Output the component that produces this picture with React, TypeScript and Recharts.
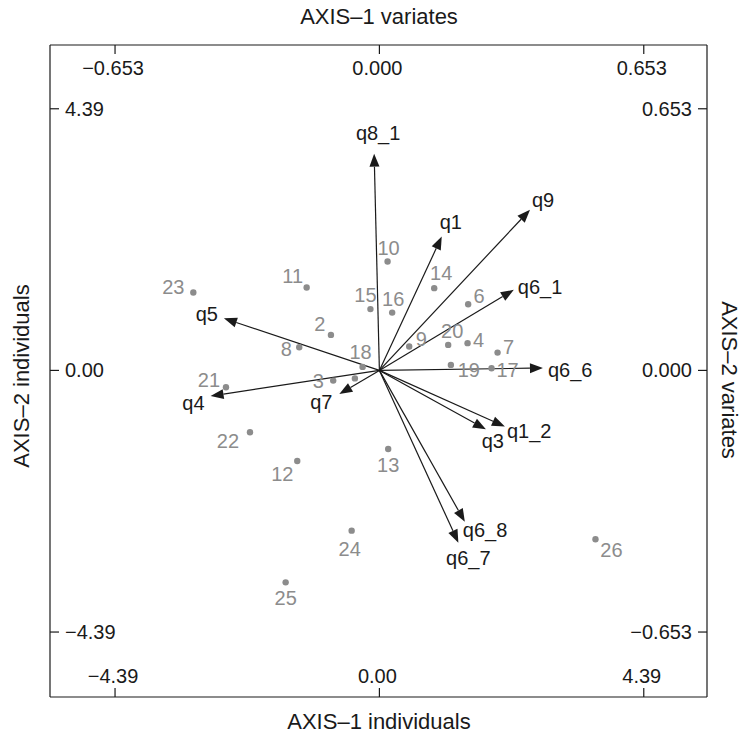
import { ScatterChart, Scatter, XAxis, YAxis, ReferenceLine } from "recharts";

const FONT = '"Liberation Sans", Arial, Helvetica, sans-serif';
const INK = "#1a1a1a";
const GREY = "#8c8c8c";

// individuals: AXIS-1 / AXIS-2 scores
const individualIds = ["2", "3", "4", "6", "7", "8", "9", "10", "11", "12", "13", "14", "15", "16", "17", "18", "19", "20", "21", "22", "23", "24", "25", "26", ""];
const individualX = [-0.805, -0.767, 1.464, 1.474, 1.962, -1.331, 0.495, 0.136, -1.208, -1.364, 0.146, 0.91, -0.149, 0.212, 1.862, -0.279, 1.187, 1.142, -2.548, -2.149, -3.09, -0.461, -1.557, 3.588, -0.407];
const individualY = [0.596, -0.171, 0.457, 1.111, 0.299, 0.389, 0.4, 1.827, 1.39, -1.519, -1.318, 1.38, 1.029, 0.97, 0.037, 0.059, 0.092, 0.428, -0.282, -1.037, 1.306, -2.689, -3.556, -2.834, -0.134];

// variates: AXIS-1 / AXIS-2 coordinates
const variateNames = ["q8_1", "q1", "q9", "q6_1", "q6_6", "q1_2", "q3", "q6_8", "q6_7", "q5", "q4", "q7"];
const variateX = [-0.013, 0.154, 0.372, 0.332, 0.404, 0.31, 0.263, 0.211, 0.195, -0.384, -0.417, -0.099];
const variateY = [0.541, 0.334, 0.401, 0.201, 0.006, -0.14, -0.147, -0.378, -0.43, 0.13, -0.064, -0.059];

const indTicks = [-4.39, 0, 4.39];
const varTicks = [-0.653, 0, 0.653];

const ratio = varTicks[2] / indTicks[2];
const indXDomain = [-5.47, 5.44];
const indYDomain = [-5.48, 5.46];
const varXDomain = indXDomain.map((v) => v * ratio);
const varYDomain = indYDomain.map((v) => v * ratio);

// label placement (text centre relative to the dot, px)
const pointLabelOffset: Record<string, [number, number]> = {
  "2": [-11, -11], "3": [-15, 0], "4": [11, -3], "6": [11, -8], "7": [11, -6],
  "8": [-13, 2], "9": [12, -8], "10": [1, -14], "11": [-14, -12], "12": [-15, 13],
  "13": [0, 16], "14": [7, -15], "15": [-5, -14], "16": [1, -14], "17": [16, 2],
  "18": [-2, -15], "19": [18, 5], "20": [4, -14], "21": [-17, -7], "22": [-22, 9],
  "23": [-20, -6], "24": [-2, 18], "25": [0, 16], "26": [16, 11],
};

const variateLabel: Record<string, { anchor: "start" | "middle" | "end"; dx: number; dy: number }> = {
  q8_1: { anchor: "middle", dx: 4, dy: -21 },
  q1: { anchor: "start", dx: -2, dy: -15 },
  q9: { anchor: "start", dx: 2, dy: -10 },
  q6_1: { anchor: "start", dx: 4, dy: -3 },
  q6_6: { anchor: "start", dx: 5, dy: 2 },
  q1_2: { anchor: "start", dx: 2, dy: 5 },
  q3: { anchor: "middle", dx: 7, dy: 12 },
  q6_8: { anchor: "start", dx: -2, dy: 8 },
  q6_7: { anchor: "middle", dx: 10, dy: 15 },
  q5: { anchor: "end", dx: -6, dy: -4 },
  q4: { anchor: "end", dx: -6, dy: 7 },
  q7: { anchor: "middle", dx: -18, dy: 8 },
};

const individuals = individualIds.map((id, i) => ({ id, x: individualX[i], y: individualY[i] }));
const variates = variateNames.map((name, i) => ({ name, x: variateX[i], y: variateY[i] }));

const fmt = (v: number, d: number) => v.toFixed(d).replace("-", "\u2212");

const tickText = { fontSize: 20, fill: INK, fontFamily: FONT };

const makeTick = (side: "top" | "bottom" | "left" | "right", digits: number) => (props: any) => {
  const { x, y, payload } = props;
  const label = fmt(payload.value, digits);
  if (side === "top")
    return (
      <g>
        <line x1={x} y1={y} x2={x} y2={y + 9} stroke={INK} strokeWidth={1.2} />
        <text x={x - 2} y={y + 23} textAnchor="middle" dominantBaseline="central" {...tickText}>{label}</text>
      </g>
    );
  if (side === "bottom")
    return (
      <g>
        <line x1={x} y1={y} x2={x} y2={y - 9} stroke={INK} strokeWidth={1.2} />
        <text x={x - 2} y={y - 21} textAnchor="middle" dominantBaseline="central" {...tickText}>{label}</text>
      </g>
    );
  if (side === "left")
    return (
      <g>
        <line x1={x} y1={y} x2={x + 9} y2={y} stroke={INK} strokeWidth={1.2} />
        <text x={x + 15} y={y} textAnchor="start" dominantBaseline="central" {...tickText}>{label}</text>
      </g>
    );
  return (
    <g>
      <line x1={x} y1={y} x2={x - 9} y2={y} stroke={INK} strokeWidth={1.2} />
      <text x={x - 15} y={y} textAnchor="end" dominantBaseline="central" {...tickText}>{label}</text>
    </g>
  );
};

const IndividualDot = (props: any) => {
  const { cx, cy, payload } = props;
  const off = pointLabelOffset[payload.id];
  return (
    <g>
      <circle cx={cx} cy={cy} r={3.2} fill={GREY} />
      {off && (
        <text x={cx + off[0]} y={cy + off[1]} textAnchor="middle" dominantBaseline="central" fontSize={20} fill={GREY} fontFamily={FONT}>
          {payload.id}
        </text>
      )}
    </g>
  );
};

const VariateLabel = (props: any) => {
  const { cx, cy, payload } = props;
  const lp = variateLabel[payload.name];
  return (
    <text x={cx + lp.dx} y={cy + lp.dy} textAnchor={lp.anchor} dominantBaseline="central" fontSize={20} fill={INK} fontFamily={FONT}>
      {payload.name}
    </text>
  );
};

const Arrow = (props: any) => {
  const { x1, y1, x2, y2 } = props;
  const ang = Math.atan2(y2 - y1, x2 - x1);
  const len = 13;
  const half = 5;
  const bx = x2 - len * Math.cos(ang);
  const by = y2 - len * Math.sin(ang);
  const px = -Math.sin(ang) * half;
  const py = Math.cos(ang) * half;
  return (
    <g>
      <line x1={x1} y1={y1} x2={bx} y2={by} stroke={INK} strokeWidth={1.2} />
      <polygon points={`${x2},${y2} ${bx + px},${by + py} ${bx - px},${by - py}`} fill={INK} />
    </g>
  );
};

const axisStroke = { stroke: INK, strokeWidth: 1.2 };

const titleStyle = {
  position: "absolute" as const,
  fontSize: 22,
  lineHeight: 1,
  color: INK,
  whiteSpace: "nowrap" as const,
  fontFamily: FONT,
};

export default function App() {
  return (
    <div style={{ position: "absolute", left: 0, top: 0, width: 742, height: 740, background: "#fff" }}>
      <ScatterChart width={742} height={740} margin={{ top: 44, right: 34, bottom: 42, left: 49 }}>
        <XAxis
          xAxisId="ind"
          dataKey="x"
          type="number"
          orientation="bottom"
          domain={indXDomain}
          ticks={indTicks}
          interval={0}
          allowDataOverflow
          height={1}
          tickSize={0}
          tickMargin={0}
          tickLine={false}
          axisLine={axisStroke}
          tick={makeTick("bottom", 2)}
        />
        <XAxis
          xAxisId="var"
          dataKey="x"
          type="number"
          orientation="top"
          domain={varXDomain}
          ticks={varTicks}
          interval={0}
          allowDataOverflow
          height={1}
          tickSize={0}
          tickMargin={0}
          tickLine={false}
          axisLine={axisStroke}
          tick={makeTick("top", 3)}
        />
        <YAxis
          yAxisId="ind"
          dataKey="y"
          type="number"
          orientation="left"
          domain={indYDomain}
          ticks={indTicks}
          interval={0}
          allowDataOverflow
          width={1}
          tickSize={0}
          tickMargin={0}
          tickLine={false}
          axisLine={axisStroke}
          tick={makeTick("left", 2)}
        />
        <YAxis
          yAxisId="var"
          dataKey="y"
          type="number"
          orientation="right"
          domain={varYDomain}
          ticks={varTicks}
          interval={0}
          allowDataOverflow
          width={1}
          tickSize={0}
          tickMargin={0}
          tickLine={false}
          axisLine={axisStroke}
          tick={makeTick("right", 3)}
        />
        <Scatter
          xAxisId="ind"
          yAxisId="ind"
          data={individuals}
          shape={IndividualDot}
          isAnimationActive={false}
        />
        {variates.map((v) => (
          <ReferenceLine
            key={v.name}
            xAxisId="var"
            yAxisId="var"
            ifOverflow="visible"
            segment={[
              { x: 0, y: 0 },
              { x: v.x, y: v.y },
            ]}
            shape={Arrow}
          />
        ))}
        <Scatter
          xAxisId="var"
          yAxisId="var"
          data={variates}
          shape={VariateLabel}
          isAnimationActive={false}
        />
      </ScatterChart>
      <div style={{ ...titleStyle, left: 379, top: 17, transform: "translate(-50%, -50%)" }}>AXIS–1 variates</div>
      <div style={{ ...titleStyle, left: 379, top: 722, transform: "translate(-50%, -50%)" }}>AXIS–1 individuals</div>
      <div style={{ ...titleStyle, left: 22, top: 376, transform: "translate(-50%, -50%) rotate(-90deg)" }}>AXIS–2 individuals</div>
      <div style={{ ...titleStyle, left: 729, top: 380, transform: "translate(-50%, -50%) rotate(90deg)" }}>AXIS–2 variates</div>
    </div>
  );
}
